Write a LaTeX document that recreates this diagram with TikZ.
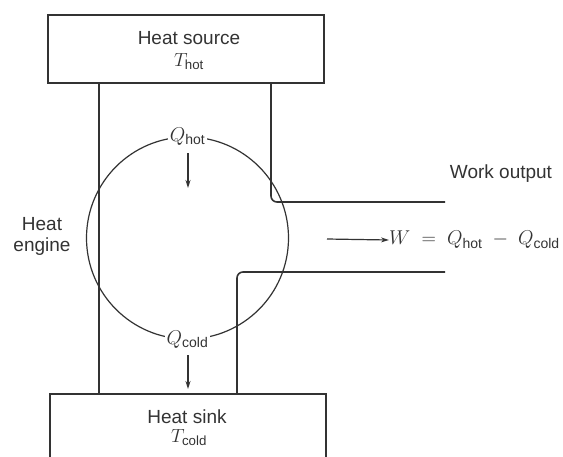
\RequirePackage{fix-cm}
\documentclass[tikz,border=0pt]{standalone}
\usepackage{amsmath}
\usepackage{fontspec}
\setmainfont{Liberation Sans}
\usetikzlibrary{arrows.meta}
\definecolor{ink}{HTML}{333333}
\definecolor{txt}{HTML}{333333}
\begin{document}
\begin{tikzpicture}[x=1pt,y=-1pt,
  line/.style={draw=ink, line width=1.6pt},
  ring/.style={draw=ink, line width=1.2pt},
  box/.style={draw=ink, line width=1.6pt, rectangle, inner sep=0pt},
  lbl/.style={text=txt, inner sep=0pt, font=\fontsize{19}{21}\selectfont},
  qlbl/.style={text=txt, inner sep=1.5pt, fill=white, font=\fontsize{20}{21}\selectfont},
  flow/.style={draw=ink, line width=1.2pt, -{Stealth[length=8pt,width=5pt]}}]
\useasboundingbox (0,0) rectangle (563,456);
\begin{scope}
\clip (0,0) rectangle (563,456);
% boxes
\node[box, minimum width=276pt, minimum height=68pt] (src) at (186,49) {};
\node[box, minimum width=276pt, minimum height=80pt] (snk) at (188,434) {};
% engine ring
\node[ring, circle, minimum size=202pt, inner sep=0pt] (eng) at (187.5,238) {};
% conductors
\coordinate (la) at (99,83);
\coordinate (lb) at (99,394);
\coordinate (ra) at (271,83);
\coordinate (rc) at (271,202);
\coordinate (wo1) at (445,202);
\coordinate (wo2) at (445,272);
\coordinate (bc) at (237,272);
\coordinate (bb) at (237,394);
\draw[line] (la) -- (lb);
\draw[line, rounded corners=6pt] (ra) -- (rc) -- (wo1);
\draw[line, rounded corners=6pt] (wo2) -- (bc) -- (bb);
\end{scope}
% texts
\node[lbl] (srct) at (189,38) {Heat source};
\node[lbl] (thot) at (189,62) {$T_{\text{hot}}$};
\node[lbl] (snkt) at (187,417) {Heat sink};
\node[lbl] (tcold) at (189,438) {$T_{\text{cold}}$};
\node[lbl, align=center] (engt) at (42,236) {Heat\\engine};
\node[lbl] (wot) at (501,174) {Work output};
\node[qlbl] (qh) at (eng.north) {$Q_{\text{hot}}$};
\node[qlbl] (qc) at (eng.south) {$Q_{\text{cold}}$};
\coordinate (qha) at (188,153);
\coordinate (qhb) at (188,188);
\coordinate (qca) at (188,355);
\coordinate (qcb) at (188,389);
\draw[flow] (qha) -- (qhb);
\draw[flow] (qca) -- (qcb);
\node[lbl, anchor=west, font=\fontsize{20}{21}\selectfont] (weq) at (389,240) {$W \;=\; Q_{\text{hot}} \;-\; Q_{\text{cold}}$};
\coordinate (wa) at (327,239);
\draw[flow] (wa) -- (weq.west);
\end{tikzpicture}
\end{document}
